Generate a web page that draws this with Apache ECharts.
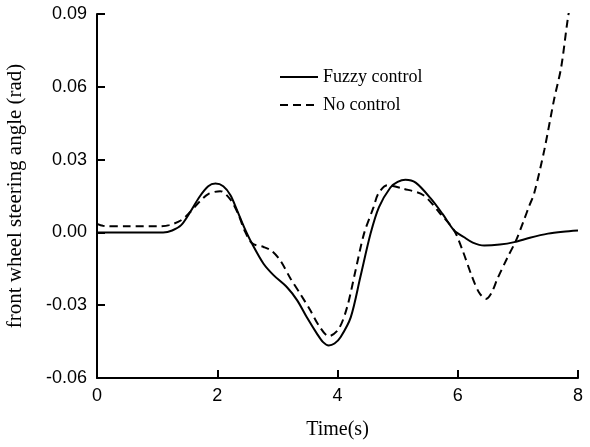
<!DOCTYPE html>
<html><head><meta charset="utf-8">
<script src="https://cdn.jsdelivr.net/npm/echarts@6/dist/echarts.min.js"></script>
<style>html,body{margin:0;padding:0;background:#fff}#c{width:590px;height:447px}</style>
</head><body><div id="c"></div>
<script>
const fuzzyT = [0,0.6,1.1,1.25,1.4,1.55,1.7,1.85,1.97,2.1,2.22,2.33,2.45,2.58,2.77,2.94,3.16,3.33,3.49,3.66,3.76,3.855,3.95,4.05,4.22,4.38,4.55,4.69,4.88,5.0,5.13,5.3,5.55,5.75,5.94,6.1,6.25,6.44,6.7,6.94,7.2,7.5,7.75,8.0];
const fuzzyV = [0,0,0,0.0008,0.003,0.0084,0.0145,0.019,0.0201,0.019,0.0153,0.0091,0.002,-0.0047,-0.0129,-0.0177,-0.0226,-0.028,-0.035,-0.0418,-0.0452,-0.0466,-0.0458,-0.0432,-0.035,-0.0184,-0.0005,0.0104,0.0185,0.0208,0.0217,0.0205,0.014,0.0075,0.0008,-0.0019,-0.0042,-0.0054,-0.005,-0.004,-0.0022,-0.0005,0.0003,0.0008];
const noCtrlT = [0,0.1,0.5,1.0,1.2,1.4,1.55,1.7,1.85,2.05,2.22,2.35,2.45,2.58,2.77,2.9,3.05,3.22,3.38,3.55,3.69,3.855,4.02,4.16,4.3,4.44,4.6,4.68,4.83,5.1,5.43,5.7,5.94,6.08,6.24,6.36,6.47,6.56,6.66,6.83,6.97,7.1,7.19,7.27,7.44,7.6,7.72,7.83,7.9];
const noCtrlV = [0.0035,0.0027,0.0025,0.0025,0.003,0.005,0.0084,0.0125,0.0158,0.017,0.0135,0.0075,0.001,-0.0045,-0.006,-0.0075,-0.0116,-0.0191,-0.0253,-0.0322,-0.0384,-0.0428,-0.0398,-0.0308,-0.0157,-0.0006,0.0104,0.016,0.0194,0.018,0.0153,0.008,0.0008,-0.0074,-0.0184,-0.025,-0.0274,-0.025,-0.0191,-0.0102,-0.0033,0.005,0.011,0.016,0.034,0.0545,0.068,0.088,0.098];
const seriesNames = ['Fuzzy control','No control'];
const xTicks = [0,8,2];
const yTicks = [-0.06,0.09,0.03];

const zip = (t,v) => t.map((x,i)=>[x,v[i]]);
const chart = echarts.init(document.getElementById('c'));
const serif = '"Liberation Serif","Times New Roman",serif';
const sans = '"Liberation Sans",Arial,sans-serif';
chart.setOption({
  animation:false,
  backgroundColor:'#fff',
  grid:{left:97,right:12,top:14,bottom:69,outerBoundsMode:'none',containLabel:false},
  legend:{
    orient:'vertical', left:274, top:63, itemWidth:38, itemHeight:14, itemGap:10,
    itemStyle:{color:'transparent',borderColor:'transparent',borderWidth:0},
    textStyle:{fontFamily:serif,fontSize:18,color:'#000'},
    data:seriesNames
  },
  xAxis:{
    type:'value', min:xTicks[0], max:xTicks[1], interval:xTicks[2],
    name:'Time(s)', nameLocation:'middle', nameGap:42,
    nameTextStyle:{fontFamily:serif,fontSize:20,color:'#000'},
    axisLine:{onZero:false,lineStyle:{color:'#000',width:2}},
    axisTick:{inside:true,length:8,lineStyle:{color:'#000',width:2}},
    axisLabel:{margin:9,fontFamily:sans,fontSize:18,color:'#000'},
    splitLine:{show:false}
  },
  yAxis:{
    type:'value', min:yTicks[0], max:yTicks[1], interval:yTicks[2],
    name:'front wheel steering angle (rad)', nameLocation:'middle', nameGap:71,
    nameTextStyle:{fontFamily:serif,fontSize:21,color:'#000'},
    axisLine:{show:true,onZero:false,lineStyle:{color:'#000',width:2}},
    axisTick:{show:true,inside:true,length:8,lineStyle:{color:'#000',width:2}},
    axisLabel:{margin:10,fontFamily:sans,fontSize:18,color:'#000',
      formatter:v=>Math.abs(v)<1e-9?'0.00':v.toFixed(2)},
    splitLine:{show:false}
  },
  series:[
    {name:seriesNames[0],type:'line',data:zip(fuzzyT,fuzzyV),smooth:0.3,symbol:'none',
      lineStyle:{color:'#000',width:2,type:'solid'},itemStyle:{color:'#000'}},
    {name:seriesNames[1],type:'line',data:zip(noCtrlT,noCtrlV),smooth:0.3,symbol:'none',
      lineStyle:{color:'#000',width:2,type:[8,5]},itemStyle:{color:'#000'}}
  ]
});
</script></body></html>
